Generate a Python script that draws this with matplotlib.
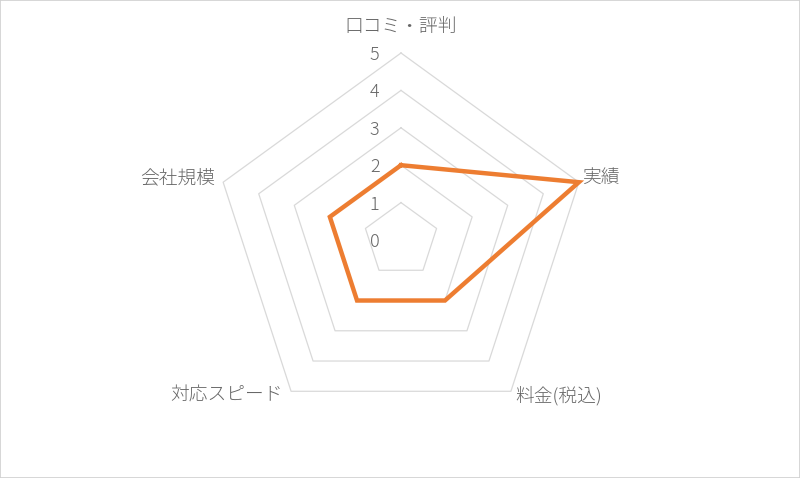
import numpy as np
import matplotlib
matplotlib.use('Agg')
import matplotlib.pyplot as plt

plt.rcParams['font.family'] = ['Noto Sans CJK JP', 'DejaVu Sans']

categories = ['口コミ・評判', '実績', '料金(税込)', '対応スピード', '会社規模']
values = [2, 5, 2, 2, 2]
levels = [1, 2, 3, 4, 5]
tick_labels = ['0', '1', '2', '3', '4', '5']

text_color = '#666666'
grid_color = '#D9D9D9'
line_color = '#ED7D31'

# pixel layout of the reference
W, H = 800, 478
cx, cy = 401, 240
unit = 37.4

fig = plt.figure(figsize=(W / 100, H / 100), dpi=100)
ax = fig.add_axes([0, 0, 1, 1])
ax.set_xlim(-cx / unit, (W - cx) / unit)
ax.set_ylim(-(H - cy) / unit, cy / unit)
ax.set_xticks([])
ax.set_yticks([])
for s in ax.spines.values():
    s.set_color('#D0D0D0')
    s.set_linewidth(1.2)

n = len(categories)
angles = np.pi / 2 - 2 * np.pi * np.arange(n) / n
ca, sa = np.cos(angles), np.sin(angles)

# grid pentagons
for lv in levels:
    xs = np.append(lv * ca, lv * ca[0])
    ys = np.append(lv * sa, lv * sa[0])
    ax.plot(xs, ys, color=grid_color, lw=0.9, zorder=1)

# tick numbers along the top axis
for i, t in enumerate(tick_labels):
    ax.annotate(t, (0, i), xytext=(-19, -1.5), textcoords='offset points',
                ha='center', va='center', fontsize=13, color=text_color,
                fontweight='light')

# series
r = np.array(values, dtype=float)
xs = np.append(r * ca, r[0] * ca[0])
ys = np.append(r * sa, r[0] * sa[0])
ax.plot(xs, ys, color=line_color, lw=3.2, solid_joinstyle='miter', zorder=3)

# category labels
top = max(levels)
offsets = [(0, 19, 'center', 'center'),
           (3, 3, 'left', 'center'),
           (3, -3, 'left', 'center'),
           (-6, -3, 'right', 'center'),
           (-6, 3, 'right', 'center')]
for i, lab in enumerate(categories):
    dx, dy, ha, va = offsets[i]
    ax.annotate(lab, (top * ca[i], top * sa[i]), xytext=(dx, dy),
                textcoords='offset points', ha=ha, va=va,
                fontsize=13.5, color=text_color, fontweight='light')

fig.savefig('out.png', dpi=100, facecolor='white')
